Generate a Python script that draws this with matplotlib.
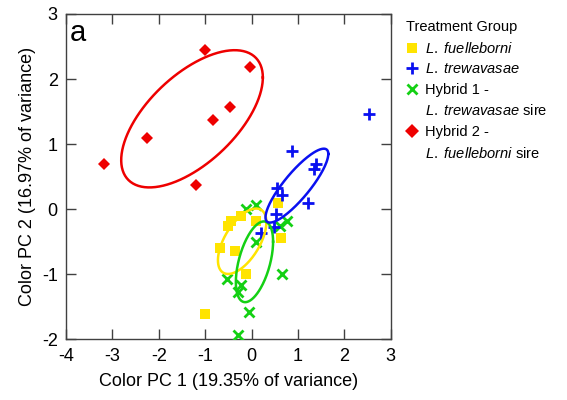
import numpy as np
import matplotlib
matplotlib.use("Agg")
import matplotlib.pyplot as plt
from matplotlib.lines import Line2D

plt.rcParams['font.family'] = ['Liberation Sans', 'DejaVu Sans']
plt.rcParams['mathtext.fontset'] = 'custom'
plt.rcParams['mathtext.rm'] = 'Liberation Sans'
plt.rcParams['mathtext.it'] = 'Liberation Sans:italic'
plt.rcParams['axes.unicode_minus'] = False

# ---- data ----
fue_x = [0.58, -0.45, -0.50, -0.22, 0.09, 0.63, -0.67, -0.36, -0.11, -1.01]
fue_y = [0.09, -0.19, -0.26, -0.11, -0.18, -0.44, -0.60, -0.64, -1.00, -1.61]

tre_x = [2.53, 0.88, 1.39, 1.345, 0.55, 0.65, 1.22, 0.52, 0.49, 0.21]
tre_y = [1.47, 0.90, 0.69, 0.61, 0.33, 0.22, 0.10, -0.07, -0.28, -0.36]

hy1_x = [-0.11, 0.09, 0.77, 0.61, 0.09, -0.52, -0.29, -0.23, -0.06, 0.65, -0.30]
hy1_y = [0.00, 0.06, -0.19, -0.26, -0.51, -1.07, -1.27, -1.17, -1.58, -0.99, -1.93]

hy2_x = [-1.00, -0.04, -0.47, -0.83, -2.26, -3.18, -1.20]
hy2_y = [2.44, 2.18, 1.57, 1.37, 1.09, 0.70, 0.37]

x_ticks = [-4, -3, -2, -1, 0, 1, 2, 3]
y_ticks = [-2, -1, 0, 1, 2, 3]

C_YEL = '#FFE400'
C_BLU = '#0A10F0'
C_GRN = '#14D014'
C_RED = '#EE0000'


def conf_ellipse(x, y, alpha=0.05, npts=200):
    x = np.asarray(x); y = np.asarray(y)
    n = len(x)
    mu = np.array([x.mean(), y.mean()])
    cov = np.cov(np.vstack([x, y]))
    # Hotelling T^2 confidence region for the mean (p = 2)
    k2 = (n - 1) / n * (alpha ** (-2.0 / (n - 2)) - 1.0)
    L = np.linalg.cholesky(cov)
    t = np.linspace(0, 2 * np.pi, npts)
    circ = np.vstack([np.cos(t), np.sin(t)])
    pts = mu[:, None] + np.sqrt(k2) * L @ circ
    return pts[0], pts[1]


fig = plt.figure(figsize=(5.67, 4.0), dpi=100)
ax = fig.add_axes([0.1164, 0.152, 0.5726, 0.813])

ax.plot(hy1_x, hy1_y, 'x', color=C_GRN, ms=6.5, mew=2, zorder=3)
ax.plot(fue_x, fue_y, 's', color=C_YEL, ms=6.5, mew=0, zorder=3)
ax.plot(tre_x, tre_y, '+', color=C_BLU, ms=8.5, mew=2, zorder=4)
ax.plot(hy2_x, hy2_y, 'D', color=C_RED, ms=6.5, mew=0, zorder=4)

for xs, ys, c in [(fue_x, fue_y, C_YEL), (hy1_x, hy1_y, C_GRN),
                  (tre_x, tre_y, C_BLU), (hy2_x, hy2_y, C_RED)]:
    ex, ey = conf_ellipse(xs, ys)
    ax.plot(ex, ey, '-', color=c, lw=1.8, zorder=5)

ax.set_xlim(-4, 3)
ax.set_ylim(-2, 3)
ax.set_xticks(x_ticks)
ax.set_yticks(y_ticks)
ax.tick_params(direction='in', length=7, width=1, top=True, right=True,
               labelsize=13, color='#404040', pad=6)
for s in ax.spines.values():
    s.set_color('#404040')
    s.set_linewidth(1)

ax.set_xlabel('Color PC 1 (19.35% of variance)', fontsize=13, labelpad=6)
ax.set_ylabel('Color PC 2 (16.97% of variance)', fontsize=13, labelpad=4)
ax.text(0.012, 0.985, 'a', transform=ax.transAxes, fontsize=21,
        ha='left', va='top')

handles = [
    Line2D([], [], ls='none', marker='s', color=C_YEL, ms=7, mew=0),
    Line2D([], [], ls='none', marker='+', color=C_BLU, ms=9, mew=2),
    Line2D([], [], ls='none', marker='x', color=C_GRN, ms=6.5, mew=2),
    Line2D([], [], ls='none', marker='none'),
    Line2D([], [], ls='none', marker='D', color=C_RED, ms=7, mew=0),
    Line2D([], [], ls='none', marker='none'),
]
labels = [
    r'$\it{L.\ fuelleborni}$',
    r'$\it{L.\ trewavasae}$',
    'Hybrid 1 -',
    r'$\it{L.\ trewavasae}$ sire',
    'Hybrid 2 -',
    r'$\it{L.\ fuelleborni}$ sire',
]
leg = fig.legend(handles, labels, loc='upper left',
                 bbox_to_anchor=(0.698, 0.975), frameon=False,
                 title='Treatment Group', fontsize=10.5, title_fontsize=10.5,
                 handlelength=0.8, handletextpad=0.5, labelspacing=0.45,
                 borderpad=0.2, alignment='left')

fig.savefig('out.png', dpi=100)
